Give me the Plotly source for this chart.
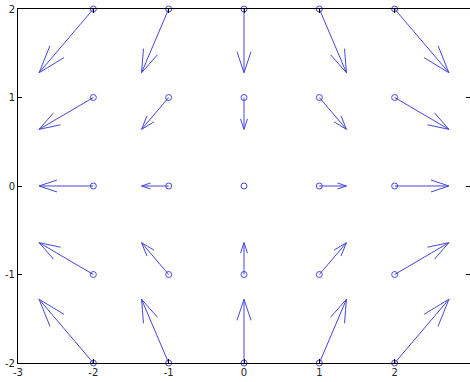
import plotly.graph_objects as go
import math

# ---- data ----
x_pos = [-2, -1, 0, 1, 2]
y_pos = [2, 1, 0, -1, -2]
# u, v components per row (rows follow y_pos, columns follow x_pos)
u_rows = [
    [-0.72, -0.36, 0.0, 0.36, 0.72],
    [-0.72, -0.36, 0.0, 0.36, 0.72],
    [-0.72, -0.36, 0.0, 0.36, 0.72],
    [-0.72, -0.36, 0.0, 0.36, 0.72],
    [-0.72, -0.36, 0.0, 0.36, 0.72],
]
v_rows = [
    [-0.72, -0.72, -0.72, -0.72, -0.72],
    [-0.36, -0.36, -0.36, -0.36, -0.36],
    [0.0, 0.0, 0.0, 0.0, 0.0],
    [0.36, 0.36, 0.36, 0.36, 0.36],
    [0.72, 0.72, 0.72, 0.72, 0.72],
]
x_ticks = [-3, -2, -1, 0, 1, 2, 3]
y_ticks = [-2, -1, 0, 1, 2]

# ---- layout geometry ----
W, H = 470, 382
ML, MR, MT, MB = 18, 0, 9, 19
x_range = [-3, 3]
y_range = [-2, 2]
sx = (W - ML - MR) / (x_range[1] - x_range[0])
sy = (H - MT - MB) / (y_range[1] - y_range[0])

HEAD_LEN = 0.33   # fraction of arrow length
HEAD_HALF = 0.11  # fraction of arrow length

color = "#4646dc"

px, py = [], []   # base points
lx, ly = [], []   # arrow line segments
for yi, yv in enumerate(y_pos):
    for xi, xv in enumerate(x_pos):
        u = u_rows[yi][xi]
        v = v_rows[yi][xi]
        px.append(xv)
        py.append(yv)
        if u == 0 and v == 0:
            continue
        tx, ty = xv + u, yv + v
        lx += [xv, tx, None]
        ly += [yv, ty, None]
        # head computed in screen space
        du, dv = u * sx, v * sy
        L = math.hypot(du, dv)
        ux, uy = du / L, dv / L
        pxn, pyn = -uy, ux
        for s in (1, -1):
            wx = -ux * HEAD_LEN * L + s * pxn * HEAD_HALF * L
            wy = -uy * HEAD_LEN * L + s * pyn * HEAD_HALF * L
            lx += [tx, tx + wx / sx, None]
            ly += [ty, ty + wy / sy, None]

fig = go.Figure()
fig.add_trace(go.Scatter(x=lx, y=ly, mode="lines",
                         line=dict(color=color, width=1),
                         hoverinfo="skip", showlegend=False, cliponaxis=False))
fig.add_trace(go.Scatter(x=px, y=py, mode="markers",
                         marker=dict(symbol="circle-open", size=6,
                                     color=color, line=dict(width=1, color=color)),
                         showlegend=False, cliponaxis=False))

axis_common = dict(showgrid=False, zeroline=False, showline=True,
                   linecolor="black", linewidth=1, mirror="allticks",
                   ticks="inside", ticklen=4, tickcolor="black",
                   automargin=False,
                   tickfont=dict(family="DejaVu Sans", size=10, color="#222"))
fig.update_xaxes(range=x_range, tickvals=x_ticks,
                 ticktext=[str(t) for t in x_ticks], **axis_common)
fig.update_yaxes(range=y_range, tickvals=y_ticks,
                 ticktext=[str(t) for t in y_ticks], **axis_common)
fig.update_layout(width=W, height=H,
                  margin=dict(l=ML, r=MR, t=MT, b=MB, pad=0, autoexpand=False),
                  plot_bgcolor="white", paper_bgcolor="white")
fig.write_html("out.html",
               config={"displayModeBar": False},
               post_script="document.body.style.margin='0px';document.body.style.overflow='hidden';")
